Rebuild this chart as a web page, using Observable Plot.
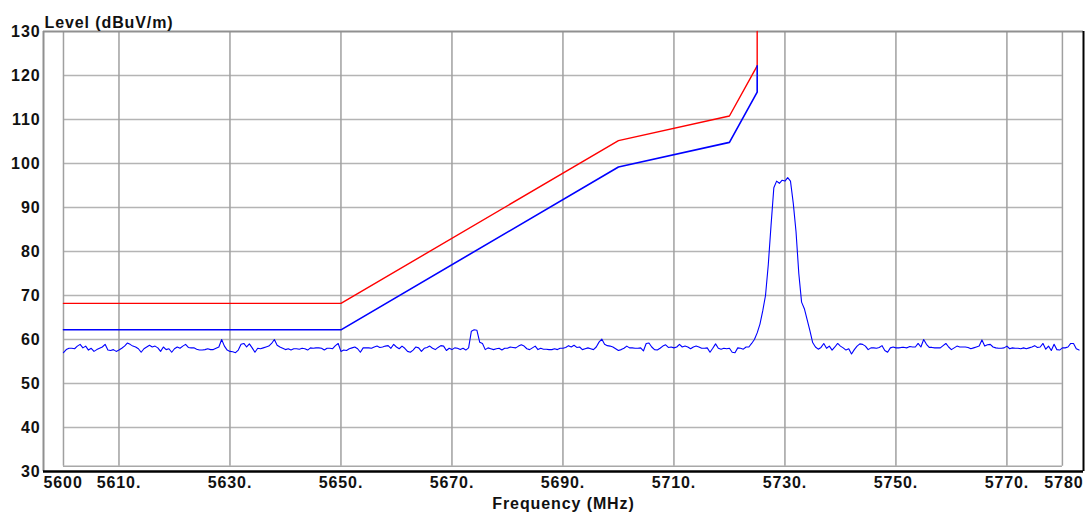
<!DOCTYPE html>
<html>
<head>
<meta charset="utf-8">
<script src="https://cdn.jsdelivr.net/npm/d3@7"></script>
<script src="https://cdn.jsdelivr.net/npm/@observablehq/plot@0.6"></script>
<style>
  html, body { margin: 0; padding: 0; background: #fff; }
  #chart svg { display: block; }
  #chart svg text { letter-spacing: 0.9px; }
</style>
</head>
<body>
<div id="chart"></div>
<script>
// Measured sweep: one level reading every 0.5 MHz from 5600 MHz (dBuV/m)
const sweepStart = 5600;
const sweepStep = 0.5;
const traceLevels = [
  57.0, 57.7, 58.0, 58.0, 57.9, 58.5, 58.9, 58.1, 58.5, 57.6,
  58.0, 57.3, 57.7, 58.0, 58.3, 58.9, 57.6, 57.5, 57.7, 57.3,
  57.6, 58.0, 58.5, 59.2, 58.9, 58.5, 58.3, 57.9, 57.1, 57.9,
  58.3, 58.7, 58.3, 58.5, 58.1, 57.3, 58.3, 57.7, 57.9, 57.1,
  57.9, 58.3, 58.0, 58.5, 58.9, 58.2, 58.1, 58.1, 57.8, 57.6,
  57.6, 57.7, 57.9, 57.7, 57.7, 58.0, 58.3, 60.0, 58.5, 57.6,
  57.3, 57.2, 57.0, 57.6, 58.9, 59.1, 58.3, 59.0, 58.1, 57.1,
  58.0, 57.9, 58.1, 58.3, 58.5, 59.1, 60.0, 58.7, 58.3, 58.0,
  57.7, 57.9, 57.6, 57.9, 57.9, 57.8, 58.0, 57.9, 57.6, 58.1,
  58.0, 58.1, 58.1, 58.0, 57.6, 58.0, 58.0, 57.9, 58.6, 59.1,
  57.3, 57.6, 57.5, 57.9, 58.1, 58.3, 57.9, 57.1, 58.1, 58.1,
  58.1, 58.0, 58.3, 58.5, 58.2, 58.3, 58.5, 58.6, 58.0, 58.9,
  58.3, 57.9, 58.5, 58.0, 57.3, 57.1, 57.6, 58.3, 58.1, 57.3,
  58.0, 58.2, 58.5, 58.0, 57.7, 58.2, 58.6, 58.5, 57.5, 58.0,
  57.7, 58.1, 58.0, 57.7, 58.0, 57.6, 58.1, 61.9, 62.2, 62.1,
  59.4, 59.1, 57.7, 58.1, 57.9, 57.7, 57.9, 58.0, 57.6, 58.0,
  58.0, 58.3, 58.2, 58.1, 58.5, 58.8, 58.5, 57.9, 57.7, 58.1,
  58.5, 57.7, 58.0, 57.8, 57.8, 57.7, 57.7, 57.9, 57.7, 58.0,
  58.0, 58.2, 58.6, 58.3, 58.7, 58.2, 58.3, 57.7, 57.9, 58.1,
  57.9, 57.7, 58.3, 59.4, 60.1, 58.9, 58.6, 58.5, 58.3, 57.9,
  57.5, 57.7, 58.0, 58.5, 58.1, 58.1, 58.0, 58.0, 58.1, 57.4,
  59.1, 59.2, 58.3, 57.7, 57.6, 58.0, 58.5, 58.8, 58.2, 58.3,
  58.1, 58.3, 58.9, 58.3, 58.5, 58.3, 57.9, 58.3, 58.5, 58.3,
  58.0, 58.0, 58.1, 57.1, 58.0, 59.0, 58.0, 57.8, 58.0, 57.9,
  58.0, 57.1, 57.0, 58.1, 58.0, 57.8, 58.3, 58.3, 59.1, 60.0,
  61.5, 63.5, 66.5, 70.0, 77.0, 86.0, 94.5, 96.0, 95.5, 96.2,
  96.0, 96.8, 96.0, 91.0, 84.5, 75.0, 68.5, 67.0, 64.5, 62.0,
  59.3, 58.3, 57.8, 58.2, 59.1, 58.0, 58.5, 57.6, 58.3, 59.1,
  58.5, 58.1, 57.6, 57.9, 56.7, 57.7, 58.5, 59.0, 58.9, 58.5,
  57.7, 58.1, 58.1, 58.0, 58.2, 58.6, 57.5, 57.1, 58.1, 58.3,
  58.1, 58.1, 58.2, 58.2, 58.1, 58.4, 58.3, 58.3, 59.1, 58.3,
  60.0, 58.9, 58.2, 58.2, 58.1, 58.1, 58.1, 58.6, 59.1, 58.3,
  57.7, 58.1, 58.5, 58.3, 58.3, 58.3, 58.2, 57.9, 58.1, 58.3,
  58.5, 59.9, 58.5, 58.8, 58.9, 58.3, 58.1, 58.0, 58.0, 58.1,
  58.5, 57.9, 58.1, 58.0, 58.0, 57.9, 58.1, 57.9, 58.1, 58.3,
  58.6, 58.2, 58.3, 59.1, 57.8, 58.5, 57.5, 58.9, 57.7, 57.6,
  58.1, 58.1, 58.3, 59.1, 59.1, 57.9, 57.6
];

// Limit lines: corner frequencies (MHz) and levels (dBuV/m)
const peakLimitFreq  = [5600, 5650, 5700, 5720, 5725, 5725];
const peakLimitLevel = [68.2, 68.2, 105.2, 110.8, 122.2, 130];
const avgLimitFreq   = [5600, 5650, 5700, 5720, 5725, 5725];
const avgLimitLevel  = [62.2, 62.2, 99.2, 104.8, 116.2, 122.2];

// Axes and grid
const freqMin = 5596.4;
const freqMax = 5783.8;
const levelMin = 30;
const levelMax = 130;
const gridBottom = 31.2;
const gridFreqs = [5600, 5610, 5630, 5650, 5670, 5690, 5710, 5730, 5750, 5770, 5780];
const freqTicks = [5610, 5630, 5650, 5670, 5690, 5710, 5730, 5750, 5770];
const freqTickLabels = ["5610.", "5630.", "5650.", "5670.", "5690.", "5710.", "5730.", "5750.", "5770."];
const freqEndLabels = ["5600", "5780"];
const gridLevels = [40, 50, 60, 70, 80, 90, 100, 110, 120];
const levelTicks = [30, 40, 50, 60, 70, 80, 90, 100, 110, 120, 130];
const yTitle = "Level (dBuV/m)";
const xTitle = "Frequency (MHz)";

const trace = traceLevels.map((v, i) => ({freq: sweepStart + i * sweepStep, level: v}));
const peakLimit = peakLimitFreq.map((f, i) => ({freq: f, level: peakLimitLevel[i]}));
const avgLimit = avgLimitFreq.map((f, i) => ({freq: f, level: avgLimitLevel[i]}));

const font = {fontSize: 16, fontWeight: "bold", fill: "#111"};

const chart = Plot.plot({
  width: 1085,
  height: 515,
  marginLeft: 43,
  marginRight: 2,
  marginTop: 31,
  marginBottom: 44,
  style: {fontFamily: "'Liberation Sans', Arial, sans-serif", background: "#fff"},
  x: {domain: [freqMin, freqMax], axis: null},
  y: {domain: [levelMin, levelMax], axis: null},
  marks: [
    // grid
    Plot.ruleY(gridLevels, {y: d => d, x1: 5600, x2: 5780, stroke: "#b4b4b4", strokeWidth: 1.5}),
    Plot.ruleY([gridBottom], {y: d => d, x1: 5600, x2: 5780, stroke: "#a8a8a8", strokeWidth: 1.5}),
    Plot.ruleX(gridFreqs, {x: d => d, y1: gridBottom, y2: levelMax, stroke: "#a0a0a0", strokeWidth: 1.5}),
    // frame
    Plot.ruleX([freqMin], {x: d => d, y1: levelMin, y2: levelMax, stroke: "#909090", strokeWidth: 2}),
    Plot.ruleY([levelMax], {y: d => d, x1: freqMin, x2: freqMax, stroke: "#909090", strokeWidth: 2}),
    Plot.ruleX([freqMax], {x: d => d, y1: levelMin, y2: levelMax, stroke: "#000", strokeWidth: 2}),
    Plot.ruleY([levelMin], {y: d => d, x1: freqMin, x2: freqMax, stroke: "#000", strokeWidth: 2.5}),
    // limits and trace
    Plot.line(peakLimit, {x: "freq", y: "level", stroke: "#ff0000", strokeWidth: 1.4}),
    Plot.line(avgLimit, {x: "freq", y: "level", stroke: "#0000ff", strokeWidth: 1.6}),
    Plot.line(trace, {x: "freq", y: "level", stroke: "#0000ff", strokeWidth: 1.1}),
    // tick labels
    Plot.text(levelTicks, {x: freqMin, y: d => d, text: d => String(d), textAnchor: "end", dx: -3, ...font}),
    Plot.text(freqTicks, {x: d => d, y: levelMin, text: (d, i) => freqTickLabels[i], dy: 11, ...font}),
    Plot.text([freqEndLabels[0]], {x: freqMin, y: levelMin, text: d => d, textAnchor: "start", dy: 11, ...font}),
    Plot.text([freqEndLabels[1]], {x: freqMax, y: levelMin, text: d => d, textAnchor: "end", dy: 11, ...font}),
    // titles
    Plot.text([yTitle], {frameAnchor: "top-left", text: d => d, textAnchor: "start", dx: 1, dy: -15, ...font}),
    Plot.text([xTitle], {frameAnchor: "bottom", text: d => d, dy: 37, ...font})
  ]
});

document.getElementById("chart").appendChild(chart);
</script>
</body>
</html>
